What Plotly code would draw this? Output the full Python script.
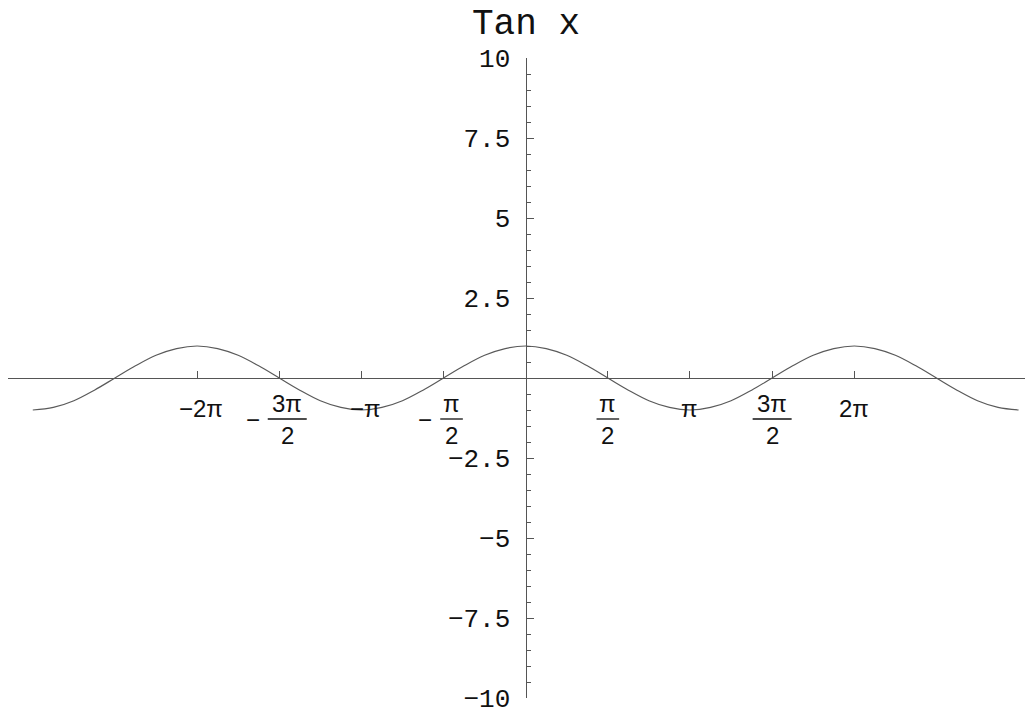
import plotly.graph_objects as go

# curve samples (x in units of pi)
x_pi = [-3, -2.875, -2.75, -2.625, -2.5, -2.375, -2.25, -2.125, -2,
        -1.875, -1.75, -1.625, -1.5, -1.375, -1.25, -1.125, -1,
        -0.875, -0.75, -0.625, -0.5, -0.375, -0.25, -0.125, 0,
        0.125, 0.25, 0.375, 0.5, 0.625, 0.75, 0.875, 1,
        1.125, 1.25, 1.375, 1.5, 1.625, 1.75, 1.875, 2,
        2.125, 2.25, 2.375, 2.5, 2.625, 2.75, 2.875, 3]
y_vals = [-1, -0.92, -0.71, -0.38, 0, 0.38, 0.71, 0.92, 1,
          0.92, 0.71, 0.38, 0, -0.38, -0.71, -0.92, -1,
          -0.92, -0.71, -0.38, 0, 0.38, 0.71, 0.92, 1,
          0.92, 0.71, 0.38, 0, -0.38, -0.71, -0.92, -1,
          -0.92, -0.71, -0.38, 0, 0.38, 0.71, 0.92, 1,
          0.92, 0.71, 0.38, 0, -0.38, -0.71, -0.92, -1]

# x tick labels
x_tick_vals = [-2, -1.5, -1, -0.5, 0.5, 1, 1.5, 2]
x_tick_sign = ["−", "−", "−", "−", "", "", "", ""]
x_tick_num = ["2π", "3π", "π", "π", "π", "π", "3π", "2π"]
x_tick_den = ["", "2", "", "2", "2", "", "2", ""]

# y tick labels
y_tick_vals = [-10, -7.5, -5, -2.5, 2.5, 5, 7.5, 10]
y_tick_text = ["−10", "−7.5", "−5", "−2.5", "2.5", "5", "7.5", "10"]

title_text = "Tan x"

x_range = [-3.1509, 3.0877]
y_range = [-10, 10]

axis_col = "#555555"
mono = "Liberation Mono"
sans = "Liberation Sans"

fig = go.Figure()
fig.add_trace(go.Scatter(x=x_pi, y=y_vals, mode="lines", line=dict(color="#5a5a5a", width=1.2, shape="spline"),
                         showlegend=False, hoverinfo="skip"))

annotations = []
shapes = []
for xv, sg, num, den in zip(x_tick_vals, x_tick_sign, x_tick_num, x_tick_den):
    lab_font = dict(family=sans, size=24, color="#111")
    if den == "":
        annotations.append(dict(x=xv, y=0, xref="x", yref="y", text=sg + num, showarrow=False,
                                yshift=-30, xshift=4 if sg else 0, font=lab_font))
        continue
    half = 11.3 + 8.2 * (len(num) - 1)
    off = 8 if sg else 0
    annotations.append(dict(x=xv, y=0, xref="x", yref="y", text=num, showarrow=False,
                            xshift=off, yshift=-25, font=lab_font))
    annotations.append(dict(x=xv, y=0, xref="x", yref="y", text=den, showarrow=False,
                            xshift=off, yshift=-57, font=lab_font))
    shapes.append(dict(type="line", xref="x", yref="y", xsizemode="pixel", ysizemode="pixel",
                       xanchor=xv, yanchor=0, x0=off - half, x1=off + half, y0=-41, y1=-41,
                       line=dict(color="#111", width=1.3)))
    if sg:
        annotations.append(dict(x=xv, y=0, xref="x", yref="y", text=sg, showarrow=False,
                                xshift=off - half - 15, yshift=-41, font=lab_font))

annotations.append(dict(x=0, y=1, xref="x", yref="paper", text=title_text, showarrow=False,
                        yanchor="middle", yshift=34, font=dict(family=mono, size=36, color="#111")))

# page body adds an 8px offset, margins account for it
fig.update_layout(
    width=1033, height=709,
    margin=dict(l=0, r=8, t=50.3, b=18.7),
    paper_bgcolor="white", plot_bgcolor="white",
    annotations=annotations, shapes=shapes,
    xaxis=dict(range=x_range, anchor="free", position=(0 - y_range[0]) / (y_range[1] - y_range[0]),
               showline=True, linecolor=axis_col, linewidth=1.3, showgrid=False, zeroline=False,
               ticks="inside", tickvals=x_tick_vals, ticklen=7, tickcolor=axis_col, tickwidth=1,
               showticklabels=False),
    yaxis=dict(range=y_range, anchor="free", position=(0 - x_range[0]) / (x_range[1] - x_range[0]),
               side="left", showline=True, linecolor=axis_col, linewidth=1.3, showgrid=False, zeroline=False,
               ticks="inside", tickvals=y_tick_vals, ticktext=y_tick_text, ticklen=7, tickcolor=axis_col,
               tickwidth=1, ticklabelstandoff=10,
               tickfont=dict(family=mono, size=26, color="#111"),
               minor=dict(ticks="inside", dtick=0.5, tick0=0, ticklen=4, tickcolor=axis_col, tickwidth=1)),
)

fig.write_html("out.html")
